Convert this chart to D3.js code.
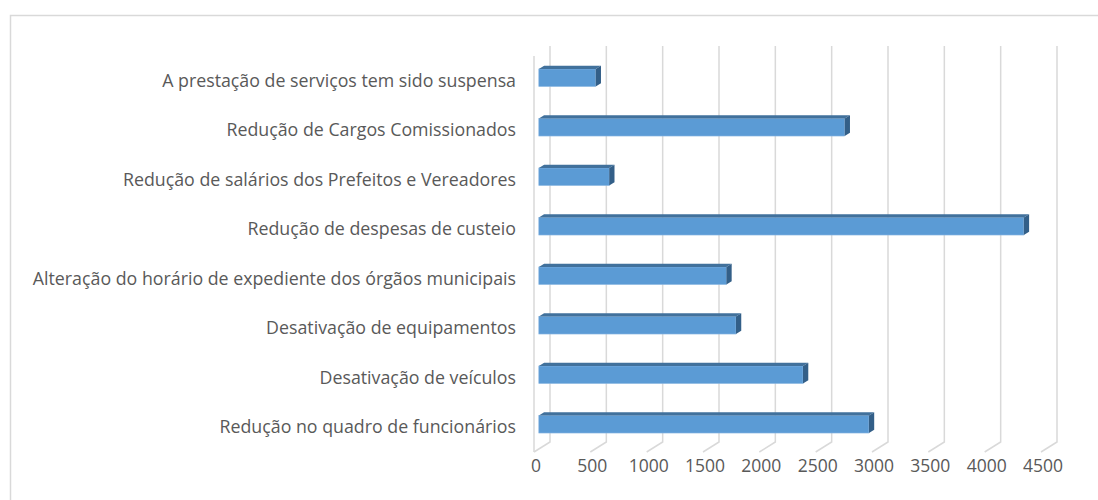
<!DOCTYPE html>
<html>
<head>
<meta charset="utf-8">
<script src="https://cdn.jsdelivr.net/npm/d3@7"></script>
<style>
  body { margin: 0; background: #fff; }
  text { font-family: 'Open Sans', sans-serif; fill: #595959; }
</style>
</head>
<body>
<div id="chart"></div>
<script>
const categories = [
  'A prestação de serviços tem sido suspensa',
  'Redução de Cargos Comissionados',
  'Redução de salários dos Prefeitos e Vereadores',
  'Redução de despesas de custeio',
  'Alteração do horário de expediente dos órgãos municipais',
  'Desativação de equipamentos',
  'Desativação de veículos',
  'Redução no quadro de funcionários'
]
const values = [505, 2715, 625, 4305, 1665, 1750, 2345, 2930]
const ticks = [0, 500, 1000, 1500, 2000, 2500, 3000, 3500, 4000, 4500]

const width = 1098
const height = 500
// front-bottom-left corner of the 3d plot box
const origin = { x: 534, y: 452 }
const plotTop = 56
// depth vector of the box (front plane -> back wall)
const depth = { x: 16, y: -10 }
const barDepth = [0.3, 0.63]

const svg = d3.select('#chart').append('svg')
  .attr('width', width)
  .attr('height', height)

// chart area border (only top and left visible)
svg.append('path')
  .attr('d', `M10.5,${height} V15.5 H${width}`)
  .attr('fill', 'none')
  .attr('stroke', '#d9d9d9')
  .attr('stroke-width', 1.5)

const xScale = d3.scaleLinear()
  .domain([0, 4500])
  .range([0, 507])

const yScale = d3.scaleBand()
  .domain(categories)
  .range([plotTop, origin.y])
  .paddingInner(0.645)
  .paddingOuter(0.3225)

const grid = svg.append('g')
  .attr('fill', 'none')
  .attr('stroke', '#d9d9d9')
  .attr('stroke-width', 1.5)

// left wall front edge
grid.append('line')
  .attr('x1', origin.x).attr('x2', origin.x)
  .attr('y1', plotTop).attr('y2', origin.y)

// back wall gridlines + floor lines
grid.selectAll('path.grid')
  .data(ticks)
  .join('path')
  .attr('class', 'grid')
  .attr('d', d => {
    const bx = origin.x + depth.x + xScale(d)
    const by = origin.y + depth.y
    return `M${bx},${plotTop + depth.y} V${by} L${origin.x + xScale(d)},${origin.y}`
  })

// tick labels
svg.append('g')
  .selectAll('text')
  .data(ticks)
  .join('text')
  .attr('x', d => origin.x + xScale(d) + 2)
  .attr('y', 472)
  .attr('text-anchor', 'middle')
  .attr('font-size', 17.5)
  .text(d => d)

// category labels
svg.append('g')
  .selectAll('text')
  .data(categories)
  .join('text')
  .attr('x', 516)
  .attr('y', d => yScale(d) + yScale.bandwidth() / 2 + 1)
  .attr('text-anchor', 'end')
  .attr('dominant-baseline', 'middle')
  .attr('font-size', 17.8)
  .text(d => d)

// 3d bars
const bars = svg.append('g')
  .selectAll('g')
  .data(categories.map((c, i) => ({ category: c, value: values[i] })))
  .join('g')

const off0 = { x: depth.x * barDepth[0], y: depth.y * barDepth[0] }
const off1 = { x: depth.x * barDepth[1], y: depth.y * barDepth[1] }
const dx = off1.x - off0.x
const dy = off1.y - off0.y

// front face
bars.append('rect')
  .attr('x', origin.x + off0.x)
  .attr('y', d => yScale(d.category) + off0.y)
  .attr('width', d => xScale(d.value))
  .attr('height', yScale.bandwidth())
  .attr('fill', '#5b9bd5')
  .attr('stroke', '#8db8e2')
  .attr('stroke-width', 0.6)

// top face
bars.append('path')
  .attr('d', d => {
    const x0 = origin.x + off0.x
    const x1 = x0 + xScale(d.value)
    const y0 = yScale(d.category) + off0.y
    return `M${x0},${y0} L${x0 + dx},${y0 + dy} H${x1 + dx} L${x1},${y0} Z`
  })
  .attr('fill', '#41719c')

// side face
bars.append('path')
  .attr('d', d => {
    const x1 = origin.x + off0.x + xScale(d.value)
    const y0 = yScale(d.category) + off0.y
    const y1 = y0 + yScale.bandwidth()
    return `M${x1},${y0} L${x1 + dx},${y0 + dy} V${y1 + dy} L${x1},${y1} Z`
  })
  .attr('fill', '#335f88')
</script>
</body>
</html>
